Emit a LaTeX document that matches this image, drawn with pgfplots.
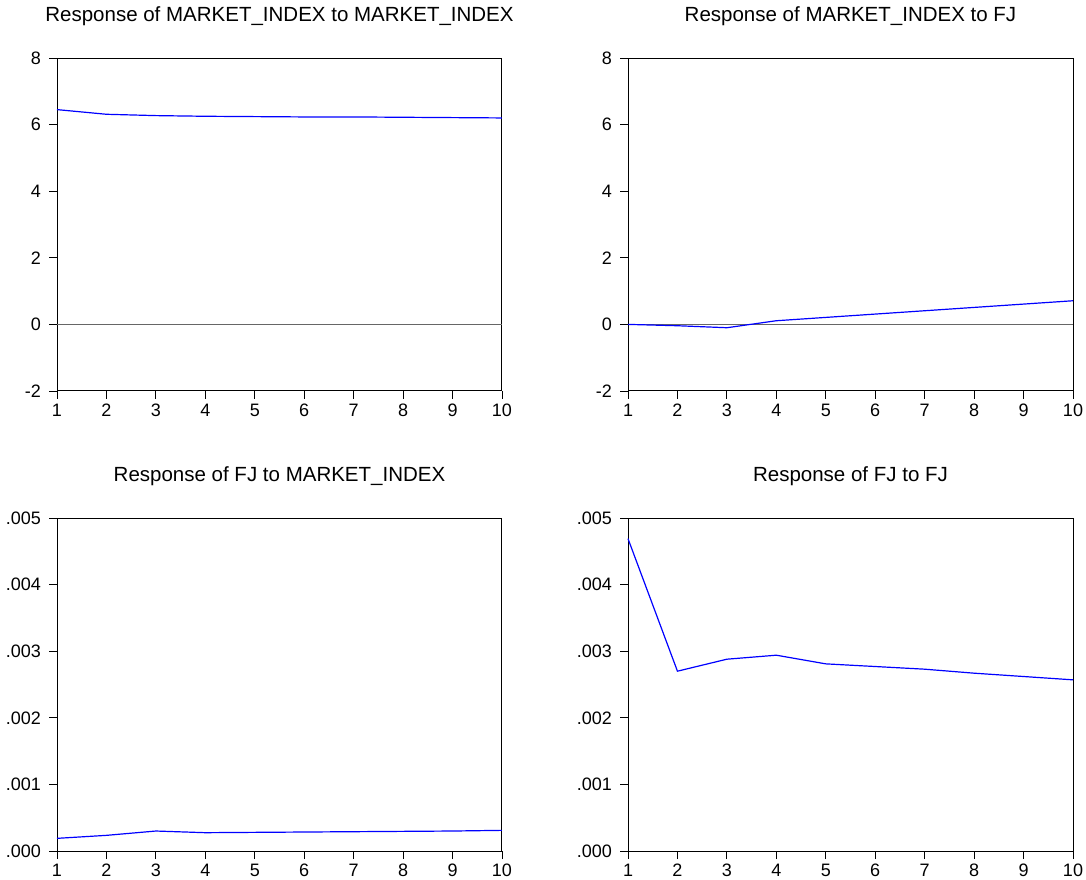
\documentclass[border=0pt]{standalone}
\usepackage{fontspec}
\setmainfont{Liberation Sans}
\usepackage{pgfplots}
\pgfplotsset{compat=1.18}
\begin{document}
\begin{tikzpicture}
\path (0pt,0pt) rectangle (1086pt,879pt);
\pgfplotsset{
  irf/.style={
    scale only axis, width=445pt, height=333pt,
    xmin=1, xmax=10, xtick={1,...,10},
    axis line style={line width=1pt, black},
    tick align=outside, major tick length=8pt,
    xtick pos=bottom, ytick pos=left,
    tick style={line width=0.9pt, black},
    /pgf/number format/assume math mode=true,
    ticklabel style={font=\fontsize{18}{21}\selectfont, inner sep=1pt},
    yticklabel style={xshift=-7pt},
    xticklabel style={yshift=-4pt},
    title style={font=\fontsize{20.5}{24}\selectfont, at={(0.5,1)}, anchor=base, yshift=31pt},
    scaled y ticks=false,
    clip=false,
  },
  toprow/.style={ymin=-2, ymax=8, ytick={-2,0,2,4,6,8}},
  botrow/.style={ymin=0, ymax=0.005, ytick={0,0.001,0.002,0.003,0.004,0.005},
    yticklabels={.000,.001,.002,.003,.004,.005}},
}
% Top-left
\begin{axis}[irf, toprow, at={(57pt,488pt)}, anchor=south west,
  title={Response of MARKET\_INDEX to MARKET\_INDEX}]
\addplot[gray!80!black, line width=0.8pt] coordinates {(1,0) (10,0)};
\addplot[blue, line width=1.2pt] coordinates {
(1,6.45) (2,6.31) (3,6.27) (4,6.25) (5,6.24) (6,6.23) (7,6.23) (8,6.22) (9,6.21) (10,6.20)};
\end{axis}
% Top-right
\begin{axis}[irf, toprow, at={(628pt,488pt)}, anchor=south west,
  title={Response of MARKET\_INDEX to FJ}]
\addplot[gray!80!black, line width=0.8pt] coordinates {(1,0) (10,0)};
\addplot[blue, line width=1.2pt] coordinates {
(1,0.00) (2,-0.04) (3,-0.10) (4,0.11) (5,0.21) (6,0.31) (7,0.41) (8,0.51) (9,0.61) (10,0.71)};
\end{axis}
% Bottom-left
\begin{axis}[irf, botrow, at={(57pt,28pt)}, anchor=south west,
  title={Response of FJ to MARKET\_INDEX}]
\addplot[blue, line width=1.2pt] coordinates {
(1,0.00019) (2,0.000235) (3,0.0003) (4,0.000275) (5,0.00028) (6,0.000285) (7,0.00029) (8,0.000295) (9,0.0003) (10,0.00031)};
\end{axis}
% Bottom-right
\begin{axis}[irf, botrow, at={(628pt,28pt)}, anchor=south west,
  title={Response of FJ to FJ}]
\addplot[blue, line width=1.2pt] coordinates {
(1,0.00469) (2,0.00270) (3,0.00288) (4,0.00294) (5,0.00281) (6,0.00277) (7,0.00273) (8,0.00267) (9,0.00262) (10,0.00257)};
\end{axis}
\end{tikzpicture}
\end{document}
